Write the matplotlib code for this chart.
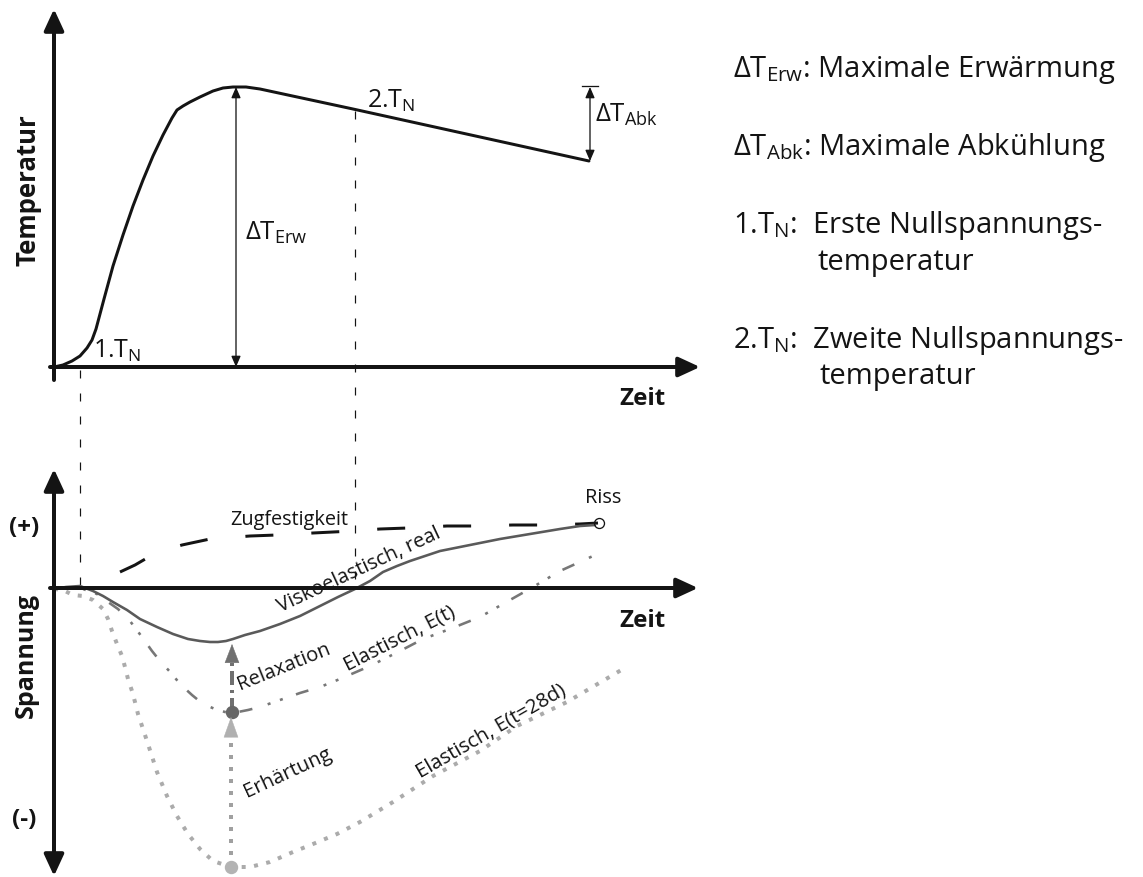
import matplotlib.pyplot as plt

plt.rcParams['font.family'] = ['Open Sans', 'DejaVu Sans']
plt.rcParams['mathtext.fontset'] = 'custom'
plt.rcParams['mathtext.rm'] = 'Open Sans'
plt.rcParams['mathtext.it'] = 'Open Sans:italic'
plt.rcParams['mathtext.bf'] = 'Open Sans:bold'
plt.rcParams['lines.scale_dashes'] = False

# schematic, canvas units = pixels (x right, y down)
# top panel: temperature over time
temp_x = [54, 63, 72, 80, 87, 92, 96, 104, 113, 123, 133, 143, 153, 163, 172, 177,
          183, 190, 200, 213, 223, 233, 246, 260, 353, 589]
temp_y = [368, 366, 362, 357, 349, 341, 330, 300, 267, 236, 207, 181, 157, 136, 119, 111,
          107, 103, 98, 92, 89, 88, 88, 90, 110, 162]

# bottom panel: stress curves
zug_x = [120, 135, 147, 165, 182, 210, 250, 277, 313, 353, 380, 408, 447, 473, 513, 540, 580, 598]
zug_y = [573, 566, 559, 551, 546, 540, 537, 536, 534, 532, 530, 529, 527, 527, 526, 526, 525, 524]

visko_x = [54, 66, 80, 93, 103, 113, 127, 140, 157, 173, 188, 200, 210, 218, 226, 233, 245,
           260, 280, 300, 320, 338, 355, 370, 383, 397, 410, 425, 440, 470, 500, 530, 560, 580, 595]
visko_y = [590, 588, 587, 592, 597, 603, 611, 620, 628, 635, 640, 642, 643, 643, 642, 640, 636,
           632, 625, 617, 607, 598, 590, 582, 573, 567, 562, 557, 552, 546, 540, 535, 530, 527, 526]

elast_x = [54, 70, 83, 97, 108, 118, 130, 142, 152, 160, 172, 180, 192, 203, 215, 225, 233,
           248, 260, 280, 300, 320, 340, 370, 400, 423, 450, 480, 510, 533, 560, 593]
elast_y = [590, 589, 590, 595, 603, 610, 622, 638, 652, 662, 675, 685, 696, 705, 710, 713, 714,
           711, 708, 701, 694, 688, 680, 667, 652, 640, 630, 618, 601, 588, 572, 557]

e28_x = [54, 63, 73, 83, 93, 103, 108, 112, 117, 122, 125, 128, 132, 135, 138, 142, 148, 157,
         167, 177, 188, 200, 213, 231, 250, 270, 293, 313, 337, 360, 393, 433, 480, 517, 567, 623]
e28_y = [590, 591, 596, 597, 601, 610, 620, 632, 645, 657, 668, 680, 692, 703, 715, 727, 745, 773,
         797, 817, 835, 850, 862, 868, 868, 863, 853, 845, 835, 823, 803, 777, 752, 727, 703, 670]

# key points
t_peak = (236, 88)
t_end = (590, 162)
riss = (599, 524)
relax_from, relax_to = (232, 713), (232, 645)
erh_from, erh_to = (231, 868), (231, 718)
zero1_x, zero2_x = 80, 355

legend_lines = [r'$\mathrm{\Delta T}_{\mathrm{Erw}}$: Maximale Erwärmung',
                r'$\mathrm{\Delta T}_{\mathrm{Abk}}$: Maximale Abkühlung',
                r'1.T$_{\mathrm{N}}$:  Erste Nullspannungs-',
                r'2.T$_{\mathrm{N}}$:  Zweite Nullspannungs-']
legend_y = [77, 155, 233, 348]

PT = 0.72  # px -> pt at 100 dpi
K = '#141414'

fig = plt.figure(figsize=(11.43, 8.78), dpi=100)
ax = fig.add_axes([0, 0, 1, 1])
ax.set_xlim(0, 1143)
ax.set_ylim(878, 0)
ax.axis('off')


def arrow(p0, p1, style='-|>', lw=4, color=K, hl=1.3, hw=0.6):
    ax.annotate('', xy=p1, xytext=p0,
                arrowprops=dict(arrowstyle=f'{style},head_length={hl},head_width={hw}',
                                lw=lw * PT, color=color, shrinkA=0, shrinkB=0,
                                mutation_scale=10))


# axes
arrow((54, 381), (54, 10))
arrow((50, 368), (700, 368))
arrow((50, 589), (698, 589))
arrow((54, 877), (54, 470), style='<|-|>')

# zero stress temperature lines
ax.plot([zero1_x, zero1_x], [371, 590], color=K, lw=1.2 * PT, dashes=(8 * PT, 15 * PT))
ax.plot([zero2_x, zero2_x], [112, 590], color=K, lw=1.2 * PT, dashes=(8 * PT, 15 * PT))

# temperature curve
ax.plot(temp_x, temp_y, color=K, lw=3 * PT, solid_capstyle='round', solid_joinstyle='round')
arrow((t_peak[0], 368), t_peak, style='<|-|>', lw=1.3, hl=0.65, hw=0.28)
arrow((t_end[0], t_end[1]), (t_end[0], 88), style='<|-|>', lw=1.3, hl=0.65, hw=0.28)
ax.plot([t_end[0] - 8, t_end[0] + 8], [87, 87], color=K, lw=1.3 * PT)

# stress curves
ax.plot(e28_x, e28_y, color='#ababab', lw=4 * PT, dashes=(4 * PT, 8.5 * PT),
        dash_capstyle='butt')
ax.plot(elast_x, elast_y, color='#777777', lw=2.6 * PT,
        dashes=(13 * PT, 16 * PT, 3 * PT, 10 * PT, 3 * PT, 14 * PT), dash_capstyle='butt')
ax.plot(zug_x, zug_y, color=K, lw=3 * PT, dashes=(28 * PT, 38 * PT), dash_capstyle='butt')
ax.plot(visko_x, visko_y, color='#5a5a5a', lw=2.6 * PT, solid_capstyle='round')

# relaxation / hardening arrows
ax.plot([erh_from[0], erh_from[0]], [erh_from[1], 737], color='#a0a0a0', lw=4 * PT,
        dashes=(4 * PT, 8 * PT), dash_capstyle='butt')
arrow((erh_to[0], 738), erh_to, lw=0.5, color='#b0b0b0', hl=1.4, hw=0.5)
ax.plot([relax_from[0], relax_from[0]], [relax_from[1], 662], color='#707070', lw=4 * PT,
        dashes=(14 * PT, 5 * PT, 3 * PT, 5 * PT), dash_capstyle='butt')
arrow((relax_to[0], 663), relax_to, lw=0.5, color='#707070', hl=1.3, hw=0.5)
ax.plot(*relax_from, 'o', color='#666666', ms=12 * PT)
ax.plot(*erh_from, 'o', color='#b3b3b3', ms=12 * PT, clip_on=False)
ax.plot(*riss, 'o', mfc='none', mec=K, ms=10 * PT, mew=1.3 * PT)

# labels, top panel
ax.text(28, 190, 'Temperatur', rotation=90, ha='center', va='center', fontsize=18.5,
        fontweight='bold', color=K)
ax.text(642, 405, 'Zeit', ha='center', va='baseline', fontsize=17.5, fontweight='bold', color=K)
ax.text(93, 358, r'1.T$_{\mathrm{N}}$', fontsize=18, va='baseline', color=K)
ax.text(367, 108, r'2.T$_{\mathrm{N}}$', fontsize=18, va='baseline', color=K)
ax.text(245, 240, r'$\mathrm{\Delta T}_{\mathrm{Erw}}$', fontsize=18.5, va='baseline', color=K)
ax.text(595, 122, r'$\mathrm{\Delta T}_{\mathrm{Abk}}$', fontsize=18.5, va='baseline', color=K)

# labels, bottom panel
ax.text(26, 656, 'Spannung', rotation=90, ha='center', va='center', fontsize=18,
        fontweight='bold', color=K)
ax.text(24, 528, '(+)', ha='center', va='center', fontsize=17.5, fontweight='bold', color=K)
ax.text(24, 820, '(-)', ha='center', va='center', fontsize=17.5, fontweight='bold', color=K)
ax.text(642, 627, 'Zeit', ha='center', va='baseline', fontsize=17.5, fontweight='bold', color=K)
ax.text(230, 525, 'Zugfestigkeit', fontsize=14.3, va='baseline', color=K)
ax.text(603, 503, 'Riss', ha='center', fontsize=14.3, va='baseline', color=K)

rot_labels = [('Viskoelastisch, real', 281, 612, 25),
              ('Elastisch, E(t)', 347, 671, 27),
              ('Elastisch, E(t=28d)', 420, 778, 30),
              ('Relaxation', 240, 690, 22),
              ('Erhärtung', 247, 797, 25)]
for txt, x, y, ang in rot_labels:
    ax.text(x, y, txt, rotation=ang, rotation_mode='anchor', ha='left', va='baseline',
            fontsize=14.6, color=K)

# explanation on the right
for txt, y in zip(legend_lines, legend_y):
    ax.text(733, y, txt, fontsize=21, va='baseline', color=K)
ax.text(818, 270, 'temperatur', fontsize=21, va='baseline', color=K)
ax.text(820, 384, 'temperatur', fontsize=21, va='baseline', color=K)

fig.savefig('out.png', dpi=100)
